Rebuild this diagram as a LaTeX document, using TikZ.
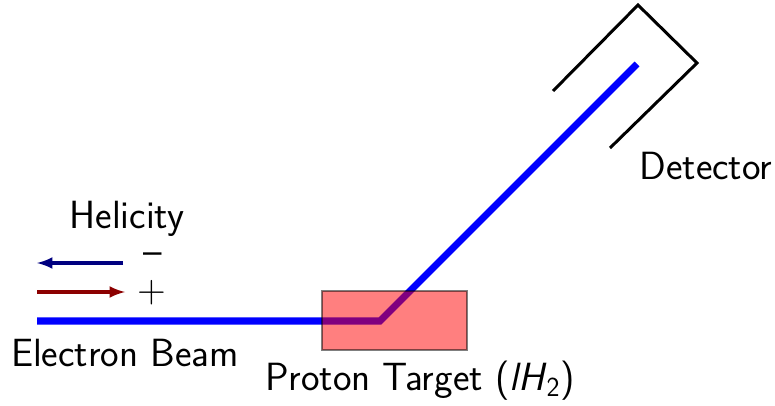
\documentclass[tikz,border=0pt]{standalone}
\usetikzlibrary{arrows}
\tikzset{
  lbl/.style={font=\sffamily\fontsize{22.4}{26}\selectfont},
  beam/.style={blue,line width=4pt},
  heli/.style={-latex,line width=2pt},
}
\begin{document}
\begin{tikzpicture}[scale=1]
                \useasboundingbox (0,0) rectangle (15.5,8.1);
                \coordinate (b0) at (0.74,1.68);
                \coordinate (kink) at (7.6,1.68);
                \coordinate (b1) at (12.74,6.82);
                \draw[beam] (b0)--(kink)--(b1);
                \draw[fill=red,fill opacity=.5,draw=black,draw opacity=.5,thick] (6.44,1.1) rectangle (9.34,2.28);
                \draw[line width=1.7pt] (11.06,6.28)--(12.76,8.0)--(13.94,6.84)--(12.2,5.14);
                \draw[heli,blue!50!black] (2.46,2.84)--(0.74,2.84);
                \draw[heli,red!55!black] (0.74,2.26)--(2.5,2.26);
                \node[lbl] (hel) at (2.54,3.72) {Helicity};
                \node[lbl,inner sep=0pt] (minus) at (3.06,2.92) {--};
                \node[lbl,inner sep=1pt] (plus) at (3.04,2.24) {+};
                \node[lbl] (ebeam) at (2.5,1.04) {Electron Beam};
                \node[lbl] (target) at (8.4,0.48) {Proton Target (\textsl{lH}\textsubscript{2})};
                \node[lbl] (det) at (14.12,4.78) {Detector};
            \end{tikzpicture}
\end{document}
